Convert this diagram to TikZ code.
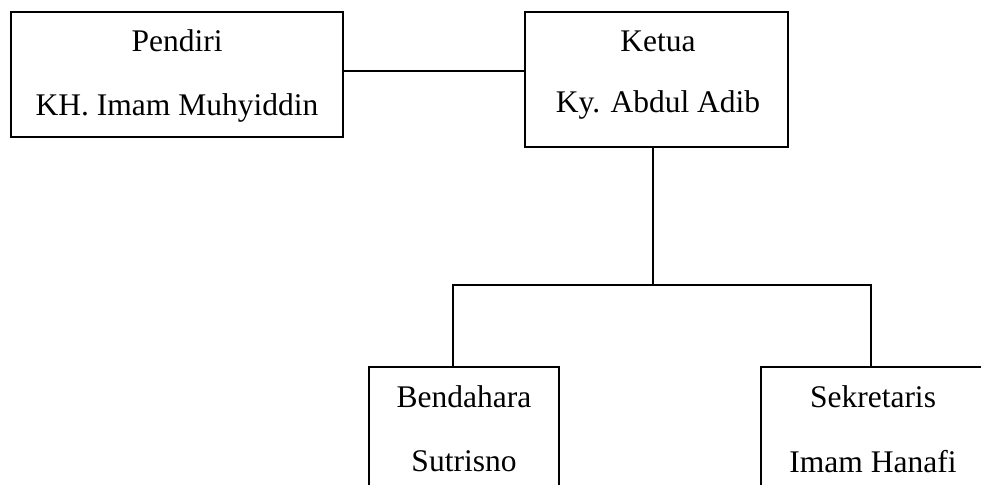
\documentclass[tikz,border=0pt]{standalone}
\usepackage{fontspec}
\setmainfont{Liberation Serif}
\begin{document}
\begin{tikzpicture}[x=1pt,y=1pt,
  box/.style={draw=black,line width=1.6pt,inner sep=0pt,fill=none},
  lbl/.style={anchor=base,inner sep=0pt,font=\fontsize{31.5}{38}\selectfont},
  conn/.style={draw=black,line width=1.8pt}]
\useasboundingbox (0,0) rectangle (981,-484);
\clip (0,0) rectangle (981,-484);
% boxes
\node[box,minimum width=332pt,minimum height=125pt] (pendiri) at (177,-74.5) {};
\node[box,minimum width=263pt,minimum height=135pt] (ketua) at (656.5,-79.5) {};
\node[box,minimum width=190pt,minimum height=150pt] (bend) at (464,-442) {};
\node[box,minimum width=225pt,minimum height=150pt] (sek) at (873.5,-442) {};
% labels
\node[lbl] (t1) at (177,-52) {Pendiri};
\node[lbl] (t2) at (177,-115) {KH. Imam Muhyiddin};
\node[lbl] (t3) at (658,-52) {Ketua};
\node[lbl] (t4) at (658,-113) {Ky. Abdul Adib};
\node[lbl] (t5) at (464,-407) {Bendahara};
\node[lbl] (t6) at (464,-471) {Sutrisno};
\node[lbl] (t7) at (873,-407) {Sekretaris};
\node[lbl] (t8) at (873,-472) {Imam Hanafi};
% connectors
\coordinate (h) at (0,-71);
\coordinate (j) at (653,-285);
\coordinate (bj) at (453,-285);
\coordinate (sj) at (871,-285);
\draw[conn] (pendiri.east |- h) -- (ketua.west |- h);
\draw[conn] (ketua.south -| j) -- (j);
\draw[conn] (bend.north -| bj) -- (bj) -- (sj) -- (sek.north -| sj);
\end{tikzpicture}
\end{document}
